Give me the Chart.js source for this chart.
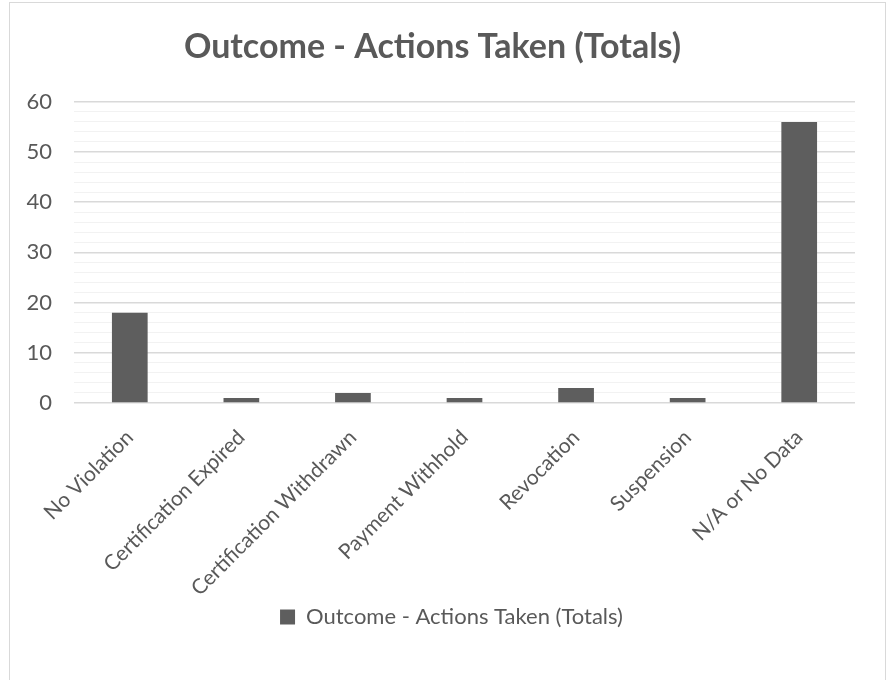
<!DOCTYPE html>
<html>
<head>
<meta charset="utf-8">
<script src="https://cdn.jsdelivr.net/npm/chart.js@4/dist/chart.umd.min.js"></script>
<style>
  body { margin: 0; background: #fff; }
  #wrap { position: relative; width: 890px; height: 680px; }
  #frame { position: absolute; left: 9px; top: 2px; width: 875px; height: 690px; border: 1px solid #d9d9d9; pointer-events: none; }
</style>
</head>
<body>
<div id="wrap">
  <canvas id="outcomeChart" width="890" height="680"></canvas>
  <div id="frame"></div>
</div>
<script>
const categories = ['No Violation', 'Certification Expired', 'Certification Withdrawn', 'Payment Withhold', 'Revocation', 'Suspension', 'N/A or No Data'];
const totals = [18, 1, 2, 1, 3, 1, 56];
const seriesName = 'Outcome - Actions Taken (Totals)';
const yTickLabels = [0, 10, 20, 30, 40, 50, 60];

const textColor = '#595959';
const font = 'Lato, "Open Sans", sans-serif';

// legend sits a bit right of centre in the original, nudge it over
const legendShift = {
    id: 'legendShift',
    afterLayout: function(chart) {
        chart.legend.left += 19;
        chart.legend.right += 19;
    }
};

document.addEventListener('DOMContentLoaded', function() {
    const ctx = document.getElementById('outcomeChart').getContext('2d');
    new Chart(ctx, {
        type: 'bar',
        data: {
            labels: categories,
            datasets: [{
                label: seriesName,
                data: totals,
                backgroundColor: '#5e5e5e',
                borderWidth: 0,
                barPercentage: 0.32,
                categoryPercentage: 1
            }]
        },
        plugins: [legendShift],
        options: {
            responsive: false,
            animation: false,
            layout: { padding: { left: 10, right: 35, top: 10, bottom: 42 } },
            plugins: {
                title: {
                    display: true,
                    text: 'Outcome - Actions Taken (Totals)',
                    color: textColor,
                    font: { family: font, size: 34, weight: 'bold' },
                    padding: { top: 17, bottom: 34 }
                },
                legend: {
                    position: 'bottom',
                    labels: {
                        color: textColor,
                        font: { family: font, size: 22 },
                        boxWidth: 15,
                        boxHeight: 15,
                        padding: 10
                    }
                },
                tooltip: { enabled: false }
            },
            scales: {
                x: {
                    grid: { display: false },
                    border: { display: false },
                    ticks: {
                        color: textColor,
                        font: { family: font, size: 21 },
                        maxRotation: 45,
                        minRotation: 45,
                        padding: 14,
                        autoSkip: false
                    },
                    afterFit: function(scale) { scale.height = 193; }
                },
                y: {
                    min: 0,
                    max: 60,
                    border: { display: false },
                    grid: {
                        drawTicks: false,
                        color: function(c) {
                            return yTickLabels.includes(c.tick.value) ? '#d9d9d9' : '#f2f2f2';
                        },
                        lineWidth: function(c) {
                            return yTickLabels.includes(c.tick.value) ? 1.5 : 1;
                        }
                    },
                    ticks: {
                        stepSize: 2,
                        autoSkip: false,
                        color: textColor,
                        font: { family: font, size: 22 },
                        padding: 22,
                        callback: function(v) { return yTickLabels.includes(v) ? v : ''; }
                    },
                    afterFit: function(scale) { scale.width = 64; }
                }
            }
        }
    });
});
</script>
</body>
</html>
